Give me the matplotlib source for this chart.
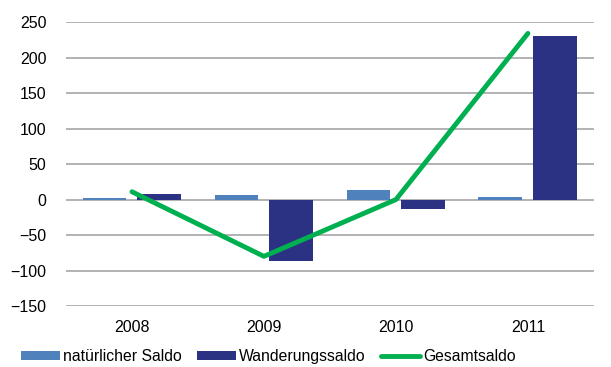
import matplotlib.pyplot as plt
import numpy as np

plt.rcParams["font.family"] = ["Liberation Sans", "DejaVu Sans"]

years = ["2008", "2009", "2010", "2011"]
natuerlich = [2, 6, 14, 3]
wanderung = [8, -86, -14, 230]
gesamt = [11, -80, 0, 234]

fig = plt.figure(figsize=(6.11, 3.67), dpi=100)
ax = fig.add_axes([0.108, 0.166, 0.864, 0.774])

x = np.arange(len(years))
w = 0.333
off = 0.208
b1 = ax.bar(x - off, natuerlich, w, color="#4f81bd", label="natürlicher Saldo", zorder=2)
b2 = ax.bar(x + off, wanderung, w, color="#2b3183", label="Wanderungssaldo", zorder=2)
ln, = ax.plot(x, gesamt, color="#00b050", lw=3.5, label="Gesamtsaldo", zorder=3,
              solid_capstyle="round")

ax.set_xlim(-0.5, len(years) - 0.5)
ax.set_ylim(-150, 250)
ax.set_yticks(np.arange(-150, 251, 50))
ax.set_xticks(x, years)
ax.yaxis.grid(True, color="#a6a6a6", lw=1.2)
ax.set_axisbelow(True)
for s in ax.spines.values():
    s.set_visible(False)
ax.tick_params(length=0, labelsize=11.5, colors="#000000")
ax.tick_params(axis="y", pad=14)
ax.tick_params(axis="x", pad=10)

ax.legend([b1, b2, ln], ["natürlicher Saldo", "Wanderungssaldo", "Gesamtsaldo"],
          loc="upper center", bbox_to_anchor=(0.383, -0.152), ncol=3,
          frameon=False, fontsize=11.3, handlelength=2.5, handleheight=0.5,
          handletextpad=0.2, columnspacing=0.95, borderpad=0, borderaxespad=0)

fig.savefig("out.png", dpi=100)
